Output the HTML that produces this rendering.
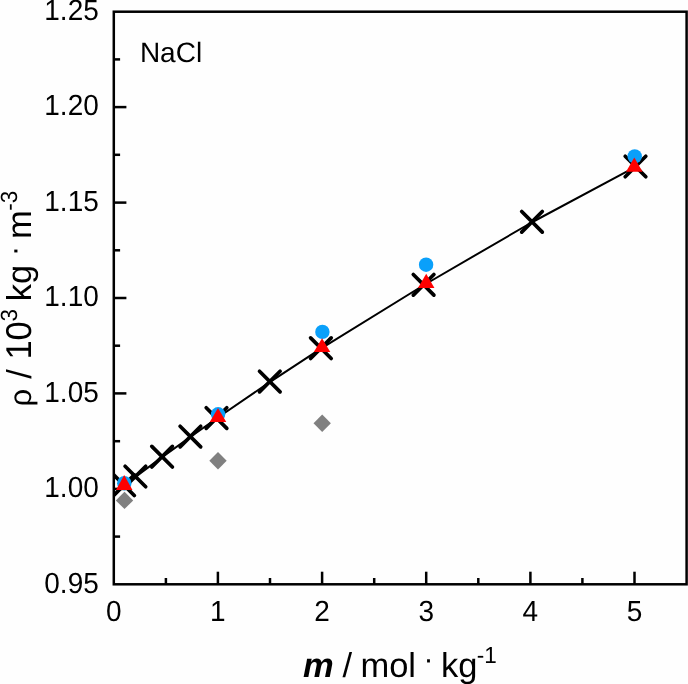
<!DOCTYPE html>
<html lang="en"><head><meta charset="utf-8"><title>NaCl density</title>
<style>html,body{margin:0;padding:0;background:#fefefe;}svg{display:block;will-change:transform;text-rendering:geometricPrecision;font-family:"Liberation Sans",Arial,sans-serif;}</style></head><body>
<svg width="688" height="684" viewBox="0 0 688 684">
<rect x="0" y="0" width="688" height="684" fill="#fefefe"/>
<rect x="113.8" y="11.7" width="572.8" height="572.6" fill="none" stroke="#000" stroke-width="2.5"/>
<g stroke="#000" stroke-width="2.5" fill="none">
<path d="M165.9 584.3V578.0"/>
<path d="M217.9 584.3V571.7"/>
<path d="M270.0 584.3V578.0"/>
<path d="M322.1 584.3V571.7"/>
<path d="M374.2 584.3V578.0"/>
<path d="M426.2 584.3V571.7"/>
<path d="M478.3 584.3V578.0"/>
<path d="M530.4 584.3V571.7"/>
<path d="M582.4 584.3V578.0"/>
<path d="M634.5 584.3V571.7"/>
<path d="M113.8 536.6H120.1"/>
<path d="M113.8 488.9H126.4"/>
<path d="M113.8 441.2H120.1"/>
<path d="M113.8 393.4H126.4"/>
<path d="M113.8 345.7H120.1"/>
<path d="M113.8 298.0H126.4"/>
<path d="M113.8 250.3H120.1"/>
<path d="M113.8 202.6H126.4"/>
<path d="M113.8 154.8H120.1"/>
<path d="M113.8 107.1H126.4"/>
<path d="M113.8 59.4H120.1"/>
</g>
<clipPath id="pc"><rect x="113.8" y="11.7" width="572.8" height="572.6"/></clipPath>
<g clip-path="url(#pc)">
<g stroke="#000" stroke-width="3.7" stroke-linecap="round" fill="none">
<path d="M113.7 474.9L134.3 495.5M113.7 495.5L134.3 474.9"/>
<path d="M125.1 466.2L145.7 486.8M125.1 486.8L145.7 466.2"/>
<path d="M151.8 446.4L172.4 467.0M151.8 467.0L172.4 446.4"/>
<path d="M180.1 426.3L200.7 446.9M180.1 446.9L200.7 426.3"/>
<path d="M206.2 407.8L226.8 428.4M206.2 428.4L226.8 407.8"/>
<path d="M259.5 371.3L280.1 391.9M259.5 391.9L280.1 371.3"/>
<path d="M310.6 337.9L331.2 358.5M310.6 358.5L331.2 337.9"/>
<path d="M413.3 274.5L433.9 295.1M413.3 295.1L433.9 274.5"/>
<path d="M521.7 211.5L542.3 232.1M521.7 232.1L542.3 211.5"/>
<path d="M625.2 156.2L645.8 176.8M625.2 176.8L645.8 156.2"/>
</g>
<polyline points="124.0,485.65 135.4,476.95 162.1,457.15 190.4,437.05 216.5,418.55 269.8,382.05 320.9,348.65 423.6,285.25 532.0,222.25 635.5,166.95" fill="none" stroke="#000" stroke-width="2.0" stroke-linejoin="round"/>
<path d="M124.5 491.7L133.2 500.4L124.5 509.09999999999997L115.8 500.4Z" fill="#808080"/>
<path d="M218.0 452.1L226.7 460.8L218.0 469.5L209.3 460.8Z" fill="#808080"/>
<path d="M322.2 414.5L330.9 423.2L322.2 431.9L313.5 423.2Z" fill="#808080"/>
<circle cx="124.3" cy="483.2" r="7.2" fill="#0aa0fa"/>
<circle cx="218.1" cy="414.3" r="7.2" fill="#0aa0fa"/>
<circle cx="322.4" cy="331.9" r="7.2" fill="#0aa0fa"/>
<circle cx="426.1" cy="264.7" r="7.2" fill="#0aa0fa"/>
<circle cx="634.7" cy="156.4" r="7.2" fill="#0aa0fa"/>
<path d="M124.2 475.1L132.45 489.9L115.95 489.9Z" fill="#ff0000"/>
<path d="M218.0 408.0L226.25 422.0L209.75 422.0Z" fill="#ff0000"/>
<path d="M322.05 338.2L330.3 351.9L313.8 351.9Z" fill="#ff0000"/>
<path d="M426.2 273.8L434.45 288.0L417.95 288.0Z" fill="#ff0000"/>
<path d="M634.3 157.4L642.55 171.7L626.05 171.7Z" fill="#ff0000"/>
</g>
<g font-size="28" fill="#000">
<text transform="translate(113.8,620.8) scale(1,1.04)" text-anchor="middle">0</text>
<text transform="translate(217.9,620.8) scale(1,1.04)" text-anchor="middle">1</text>
<text transform="translate(322.1,620.8) scale(1,1.04)" text-anchor="middle">2</text>
<text transform="translate(426.2,620.8) scale(1,1.04)" text-anchor="middle">3</text>
<text transform="translate(530.4,620.8) scale(1,1.04)" text-anchor="middle">4</text>
<text transform="translate(634.5,620.8) scale(1,1.04)" text-anchor="middle">5</text>
<text transform="translate(98.8,592.6) scale(1,1.04)" text-anchor="end">0.95</text>
<text transform="translate(98.8,497.2) scale(1,1.04)" text-anchor="end">1.00</text>
<text transform="translate(98.8,401.7) scale(1,1.04)" text-anchor="end">1.05</text>
<text transform="translate(98.8,306.3) scale(1,1.04)" text-anchor="end">1.10</text>
<text transform="translate(98.8,210.9) scale(1,1.04)" text-anchor="end">1.15</text>
<text transform="translate(98.8,115.4) scale(1,1.04)" text-anchor="end">1.20</text>
<text transform="translate(98.8,20.0) scale(1,1.04)" text-anchor="end">1.25</text>
</g>
<text x="139.9" y="62.1" font-size="28" fill="#000">NaCl</text>
<g font-size="34.5" fill="#000">
<text x="303" y="676.5" font-weight="bold" font-style="italic">m</text>
<text x="342.6" y="676.5">/</text>
<text x="360.4" y="676.5">mol</text>
<text x="423.5" y="669.4" font-size="30">·</text>
<text x="441" y="676.5">kg</text>
<text transform="translate(476.8,662.8) scale(1,1.04)" font-size="22.5">-1</text>
</g>
<g transform="translate(30.8,440) rotate(-90)" font-size="34.5" fill="#000">
<text x="33.5" y="0" font-size="31">ρ</text>
<text x="61.3" y="0">/</text>
<text transform="translate(80.4,0.0) scale(1,1.04)">10</text>
<text transform="translate(118.4,-13.5) scale(1,1.04)" font-size="22.5">3</text>
<text x="138.8" y="0">kg</text>
<text x="184.0" y="-6.5" font-size="30">·</text>
<text x="201.0" y="0">m</text>
<text transform="translate(229.2,-13.5) scale(1,1.04)" font-size="22.5">-3</text>
</g>
</svg></body></html>
